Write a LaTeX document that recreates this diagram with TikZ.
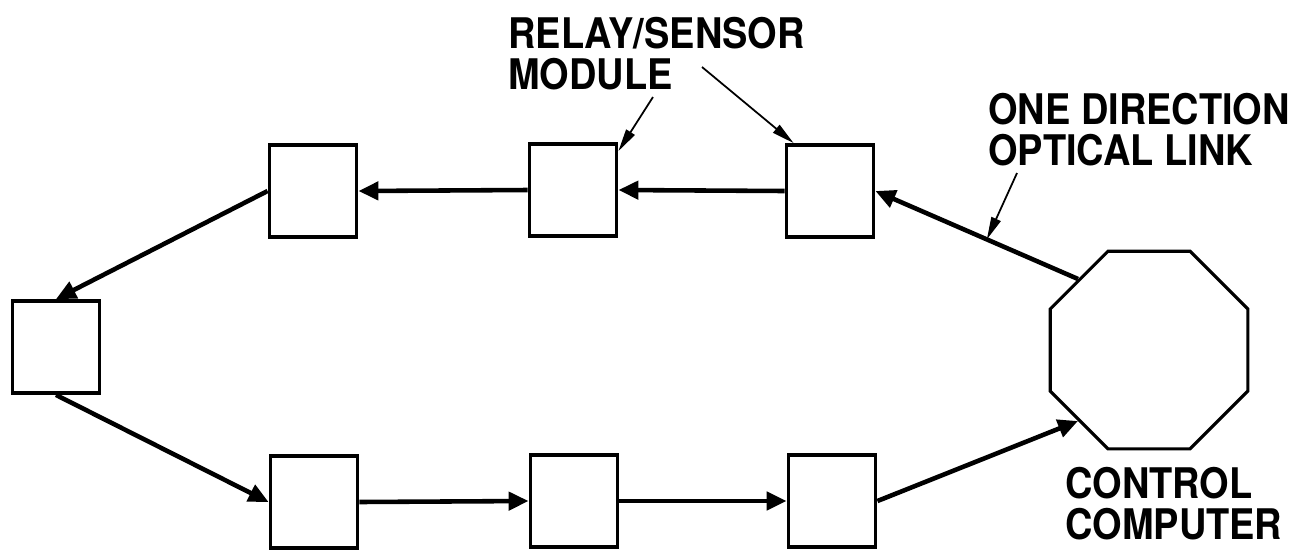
\documentclass[tikz,border=0pt]{standalone}
\usepackage{fontspec}
\newfontfamily\labelfont{TeX Gyre Heros}[FakeStretch=0.9]
\usetikzlibrary{arrows.meta,shapes.geometric}

\tikzset{
  module/.style={draw,line width=2.2pt,minimum width=1.74cm,minimum height=1.84cm,inner sep=0pt},
  computer/.style={draw,line width=1.8pt,regular polygon,regular polygon sides=8,minimum size=4.28cm,inner sep=0pt},
  link/.style={line width=2.6pt,-{Triangle[length=4mm,width=3.6mm]}},
  leader/.style={line width=1pt,-{Triangle[length=4.5mm,width=2mm]}},
  caption/.style={font=\labelfont\bfseries\fontsize{24}{23}\selectfont,align=left,inner sep=0pt,anchor=north west}
}

\begin{document}
\begin{tikzpicture}[x=0.02cm,y=-0.02cm]
\useasboundingbox (0,0) rectangle (1315,552);
% modules on the ring
\node[module] (t1) at (313,191) {};
\node[module] (t2) at (573,190) {};
\node[module] (t3) at (830,191) {};
\node[module] (l) at (56,347) {};
\node[module] (b1) at (314,502) {};
\node[module] (b2) at (574,501) {};
\node[module] (b3) at (832,501) {};
\node[computer] (cc) at (1149,350) {};
% optical links
\draw[link] (cc.north west) -- coordinate[pos=0.45] (linkpt) (t3.east);
\draw[link] (t3.west) -- (t2.east);
\draw[link] (t2.west) -- (t1.east);
\draw[link] (t1.west) -- (l.north);
\draw[link] (l.south) -- (b1.west);
\draw[link] (b1.east) -- (b2.west);
\draw[link] (b2.east) -- (b3.west);
\draw[link] (b3.east) -- (cc.south west);
% labels
\node[caption] (relay) at (508,17) {RELAY/SENSOR\\MODULE};
\node[caption] (optic) at (988,93) {ONE DIRECTION\\OPTICAL LINK};
\node[caption] (ctrl) at (1065,467) {CONTROL\\COMPUTER};
\coordinate (m1) at (653,97);
\coordinate (m2) at (702,67);
\coordinate (o1) at (1017,173);
\draw[leader] (m1) -- ([yshift=-0.18cm]t2.north east);
\draw[leader] (m2) -- ([xshift=0.18cm]t3.north west);
\draw[leader] (o1) -- (linkpt);
\end{tikzpicture}
\end{document}
